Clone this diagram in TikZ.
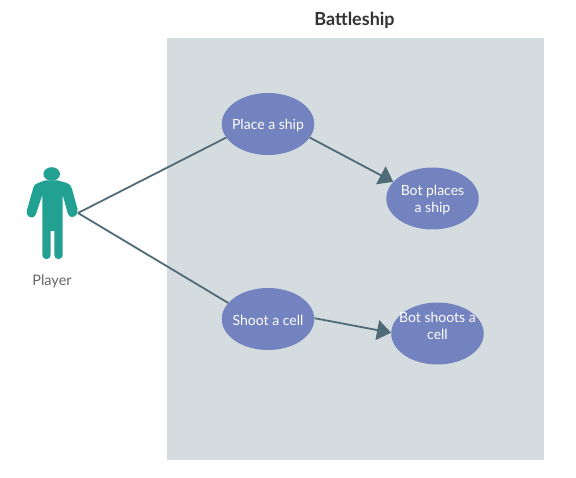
\documentclass[tikz,border=0pt]{standalone}
\usepackage{fontspec}
\setmainfont{Lato}
\usetikzlibrary{shapes.geometric,arrows.meta}
\definecolor{panel}{HTML}{D5DCE0}
\definecolor{usecase}{HTML}{7383BF}
\definecolor{link}{HTML}{4F6B78}
\definecolor{actor}{HTML}{22A192}
\newcommand{\lowertext}{\rule{0pt}{12.5pt}}
\newcommand{\raisetext}{\rule[-15pt]{0pt}{15pt}}
\tikzset{
  usecasenode/.style={ellipse,fill=usecase,minimum width=92.5pt,minimum height=62pt,inner sep=-14pt,
    text=white,align=center,font=\fontsize{14}{17}\selectfont},
  linkline/.style={draw=link,line width=1.8pt},
  arrowline/.style={linkline,-{Triangle[length=14pt,width=20pt]}}
}
\begin{document}
\begin{tikzpicture}[x=1pt,y=-1pt]
\useasboundingbox (0,0) rectangle (576,478);
\fill[white] (0,0) rectangle (576,478);
\fill[panel] (167,38) rectangle (544,460);
\node[font=\bfseries\fontsize{18}{21}\selectfont,text=black!80] (title) at (354.5,20) {Battleship};
% actor
\fill[actor] (51.7,174) ellipse [x radius=8.3,y radius=6.8];
\fill[actor]
  (45,180.5) -- (58,180.5) -- (67,183) .. controls (70,184) and (71,186) .. (72,189)
  -- (77.5,209) .. controls (78.5,214) and (75,217) .. (72,217) .. controls (70,217) and (69,216) .. (68,214)
  -- (62.7,195) -- (62.7,254) .. controls (62.7,261) and (54.3,261) .. (54.3,254)
  -- (54.3,231) -- (50.7,231) -- (50.7,254) .. controls (50.7,261) and (42.3,261) .. (42.3,254)
  -- (42.3,195) -- (36,214) .. controls (35,216) and (34,217.5) .. (32,217.5) .. controls (28,217.5) and (26,214) .. (27,210)
  -- (33,189) .. controls (34,185) and (35,184) .. (38,183) -- cycle;
\node[text=black!60,font=\fontsize{14.5}{17}\selectfont] (playerlabel) at (52,281) {Player};
\coordinate (player) at (78,213);
% use cases
\node[usecasenode] (place) at (268,124) {\lowertext Place a ship};
\node[usecasenode] (botplace) at (432.5,198.5) {\lowertext Bot places\\a ship};
\node[usecasenode] (shoot) at (268,319) {\lowertext Shoot a cell};
\node[usecasenode] (botshoot) at (437.5,333.5) {Bot shoots a\\cell\raisetext};
% connectors
\draw[linkline] (player) -- (place.-162);
\draw[linkline] (player) -- (shoot.158);
\draw[arrowline] (place.-18) -- (botplace.157);
\draw[arrowline] (shoot.1) -- (botshoot.179);
\end{tikzpicture}
\end{document}
